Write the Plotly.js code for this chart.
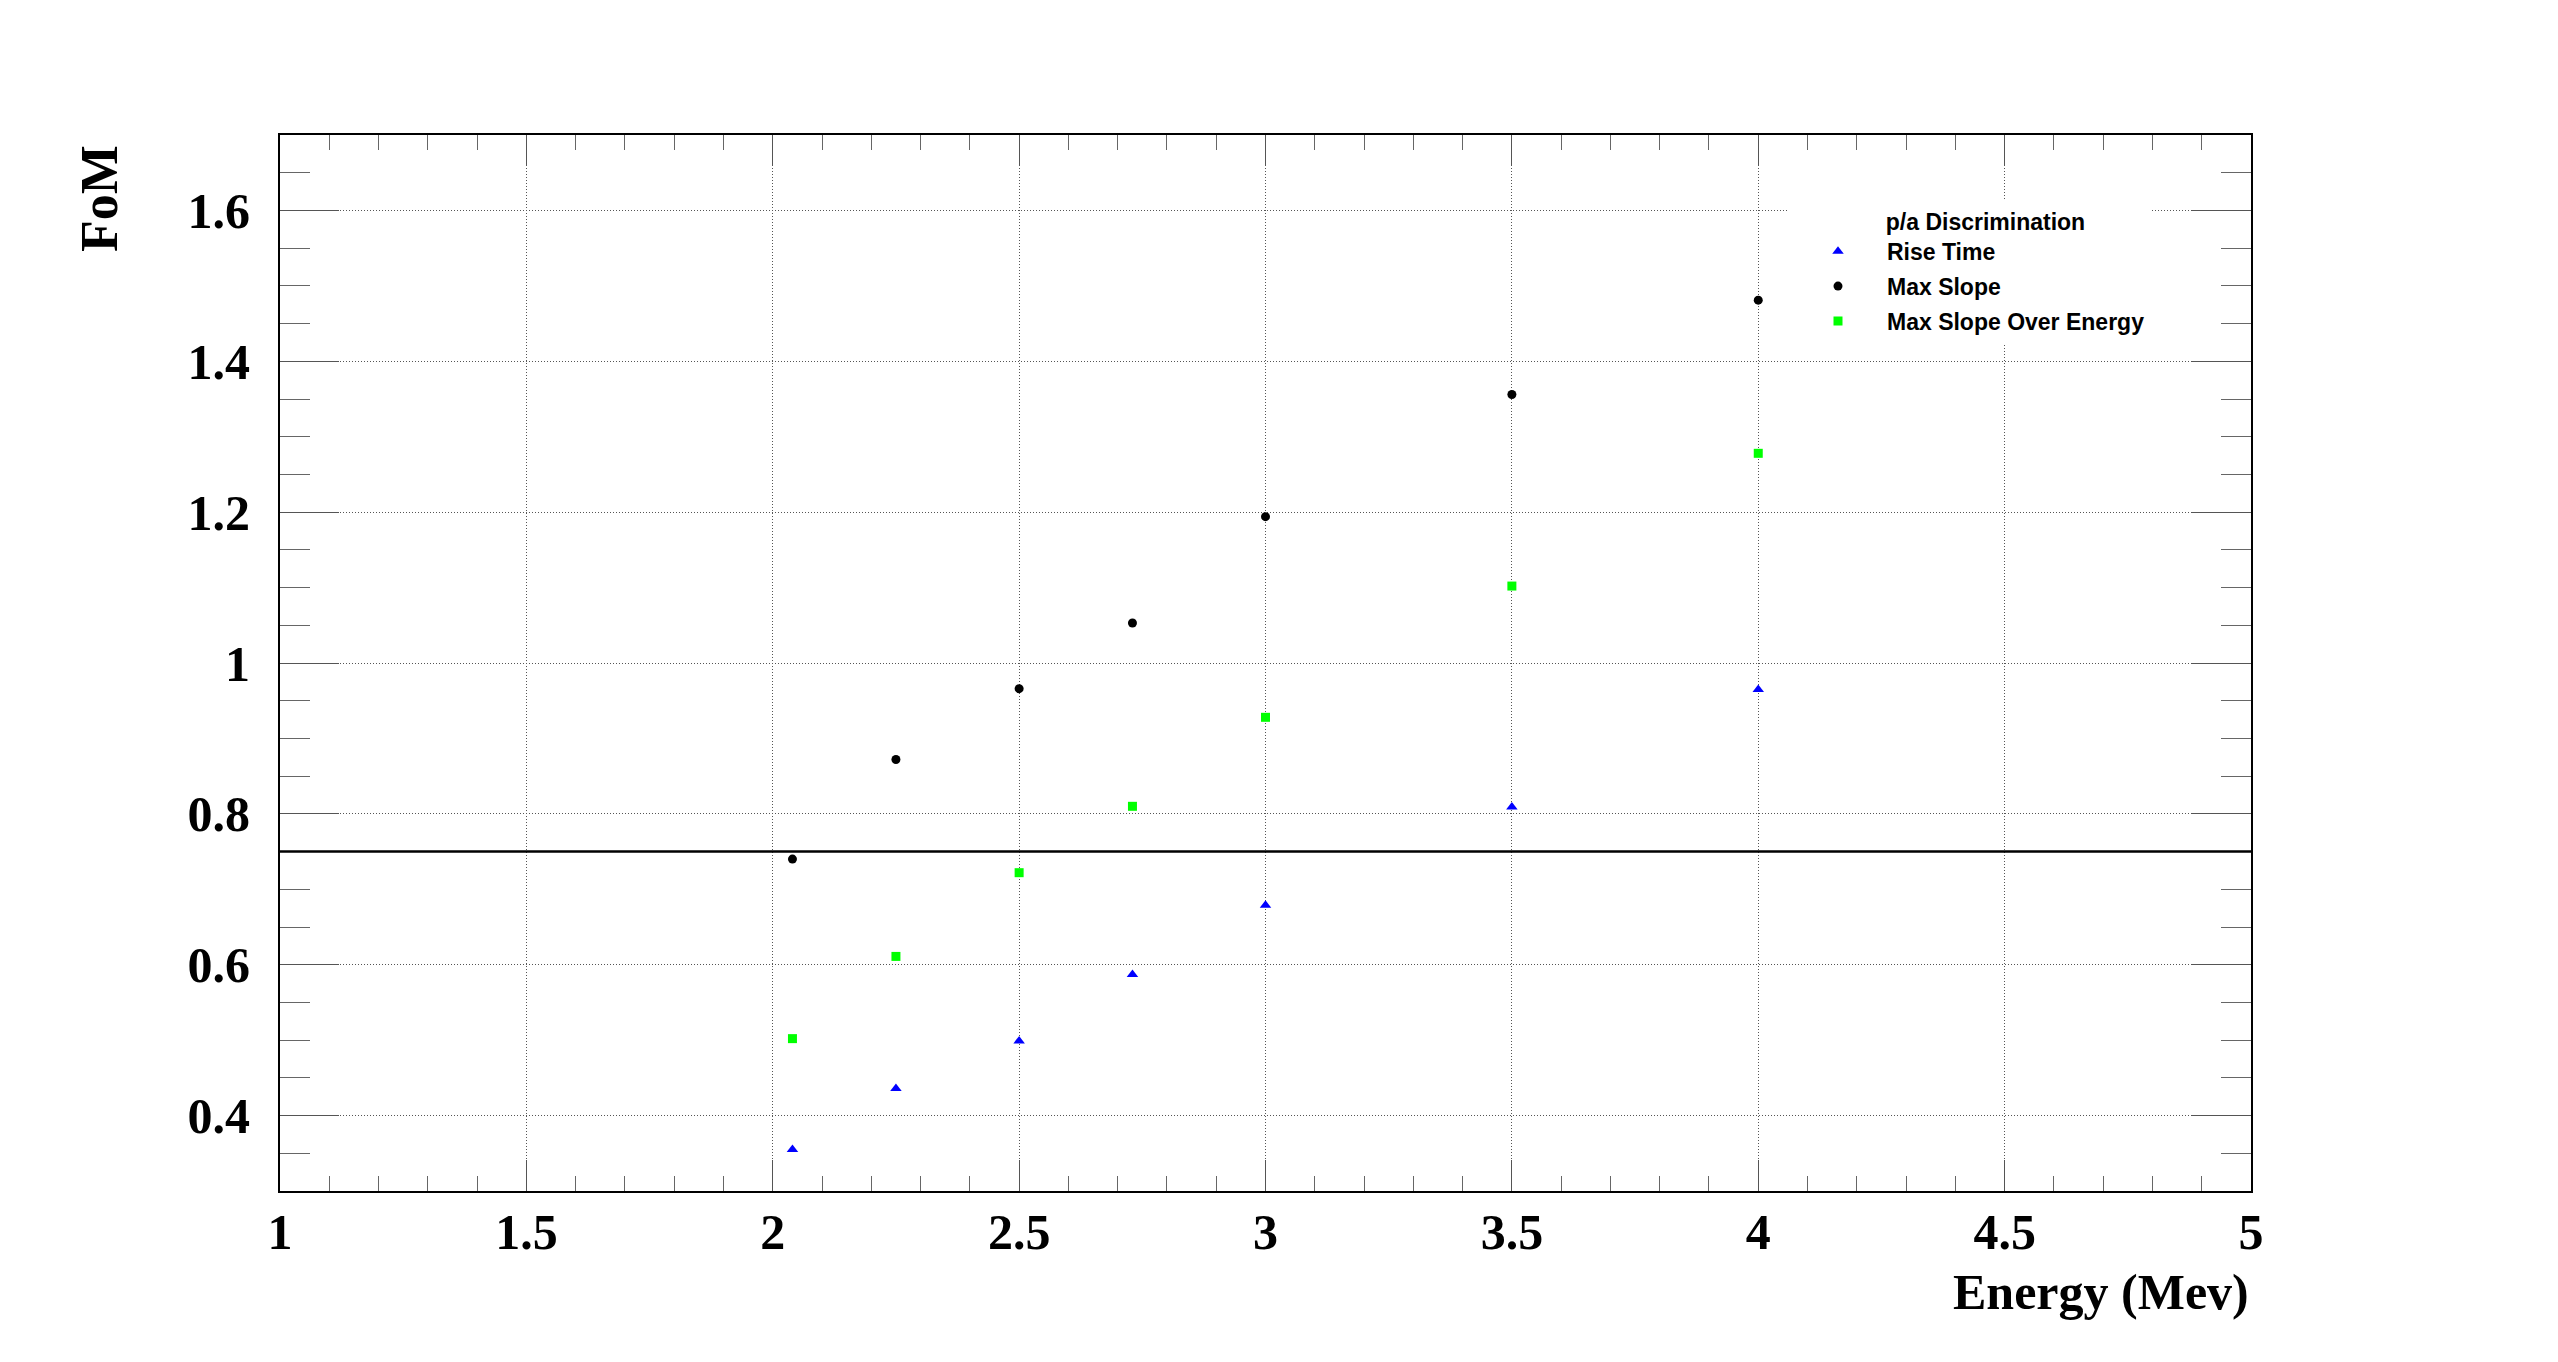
<!DOCTYPE html>
<html>
<head>
<meta charset="utf-8">
<script src="https://cdn.plot.ly/plotly-3.0.1.min.js"></script>
<style>
html, body { margin: 0; padding: 0; background: #ffffff; }
#chart { width: 2558px; height: 1362px; }
</style>
</head>
<body>
<div id="chart"></div>
<script>
// Data
var energy = [2.04, 2.25, 2.5, 2.73, 3.0, 3.5, 4.0];
var riseTime = [0.355, 0.436, 0.499, 0.587, 0.679, 0.809, 0.965];
var maxSlope = [0.740, 0.872, 0.966, 1.053, 1.194, 1.356, 1.481];
var maxSlopeOverEnergy = [0.502, 0.611, 0.722, 0.810, 0.928, 1.102, 1.278];
var seriesNames = ['Rise Time', 'Max Slope', 'Max Slope Over Energy'];
var legendHeader = 'p/a Discrimination';
var threshold = [0.75];
var xTitle = 'Energy (Mev)';
var yTitle = 'FoM';

var serif = 'Liberation Serif, Times New Roman, serif';
var sans = 'Liberation Sans, Arial, Helvetica, sans-serif';

var traces = [
  { x: energy, y: riseTime, name: seriesNames[0], type: 'scatter', mode: 'markers',
    legendgroup: 'a',
    marker: { symbol: 'triangle-up', size: 10, color: '#0000ff' } },
  { x: energy, y: maxSlope, name: seriesNames[1], type: 'scatter', mode: 'markers',
    legendgroup: 'b',
    marker: { symbol: 'circle', size: 9, color: '#000000' } },
  { x: energy, y: maxSlopeOverEnergy, name: seriesNames[2], type: 'scatter', mode: 'markers',
    legendgroup: 'c',
    marker: { symbol: 'square', size: 9, color: '#00ff00' } }
];

var axisCommon = {
  showline: true, linecolor: '#000000', linewidth: 2, mirror: 'allticks',
  ticks: 'inside', tickcolor: '#555555', tickwidth: 1,
  showgrid: true, gridcolor: '#555555', gridwidth: 1, griddash: '1px,2px',
  zeroline: false,
  tickfont: { family: serif, size: 50, color: '#000000', weight: 'bold' }
};

var layout = {
  width: 2558, height: 1362,
  paper_bgcolor: '#ffffff', plot_bgcolor: '#ffffff',
  margin: { l: 280, r: 307, t: 135, b: 171 },
  showlegend: true,
  xaxis: Object.assign({}, axisCommon, {
    range: [1, 5], dtick: 0.5, tick0: 1, ticklen: 31, ticklabelstandoff: -4,
    minor: { dtick: 0.1, tick0: 1, ticks: 'inside', ticklen: 15, tickcolor: '#666666', tickwidth: 1, showgrid: false }
  }),
  yaxis: Object.assign({}, axisCommon, {
    range: [0.3, 1.7], dtick: 0.2, tick0: 0.4, ticklen: 59, ticklabelstandoff: 18,
    minor: { dtick: 0.05, tick0: 0.3, ticks: 'inside', ticklen: 30, tickcolor: '#666666', tickwidth: 1, showgrid: false }
  }),
  legend: {
    x: 0.7656, y: 0.9386, xanchor: 'left', yanchor: 'top',
    bgcolor: '#ffffff', borderwidth: 0,
    itemwidth: 88, tracegroupgap: 2,
    font: { family: sans, size: 23, color: '#000000', weight: 'bold' },
    title: { text: '\u00a0\u00a0\u00a0\u00a0\u00a0' + legendHeader, side: 'top center',
             font: { family: sans, size: 23, color: '#000000', weight: 'bold' } }
  },
  shapes: [{
    type: 'line', xref: 'paper', x0: 0, x1: 1, yref: 'y', y0: threshold[0], y1: threshold[0],
    line: { color: '#000000', width: 2.5 }, layer: 'above'
  }],
  annotations: [
    { text: xTitle, xref: 'paper', yref: 'paper', x: 1, y: -0.0674, xanchor: 'right', yanchor: 'top',
      showarrow: false, font: { family: serif, size: 50, color: '#000000', weight: 'bold' } },
    { text: yTitle, xref: 'paper', yref: 'paper', x: -0.0913, y: 0.992, xanchor: 'center', yanchor: 'top',
      textangle: -90, showarrow: false, font: { family: serif, size: 52, color: '#000000', weight: 'bold' } }
  ]
};

Plotly.newPlot('chart', traces, layout, { staticPlot: true, displayModeBar: false });
</script>
</body>
</html>
